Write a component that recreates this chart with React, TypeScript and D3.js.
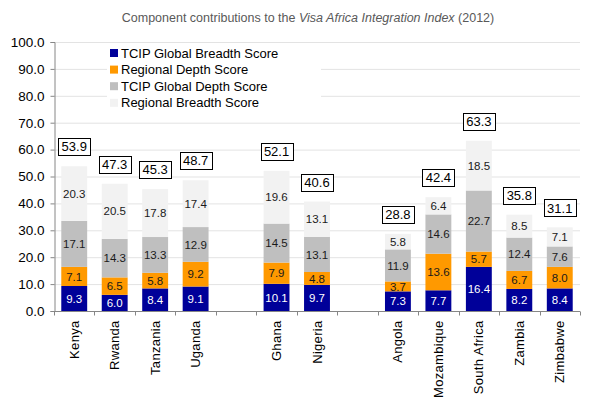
import React, { useEffect, useRef } from 'react';
import * as d3 from 'd3';

const slots = ['Kenya', 'Rwanda', 'Tanzania', 'Uganda', 'gap1', 'Ghana', 'Nigeria', 'gap2', 'Angola', 'Mozambique', 'South Africa', 'Zambia', 'Zimbabwe'];
const countries = ['Kenya', 'Rwanda', 'Tanzania', 'Uganda', 'Ghana', 'Nigeria', 'Angola', 'Mozambique', 'South Africa', 'Zambia', 'Zimbabwe'];

const seriesNames = ['TCIP Global Breadth Score', 'Regional Depth Score', 'TCIP Global Depth Score', 'Regional Breadth Score'];
const seriesColors = ['#000099', '#FF9900', '#BFBFBF', '#F2F2F2'];

const globalBreadth = [9.3, 6.0, 8.4, 9.1, 10.1, 9.7, 7.3, 7.7, 16.4, 8.2, 8.4];
const regionalDepth = [7.1, 6.5, 5.8, 9.2, 7.9, 4.8, 3.7, 13.6, 5.7, 6.7, 8.0];
const globalDepth = [17.1, 14.3, 13.3, 12.9, 14.5, 13.1, 11.9, 14.6, 22.7, 12.4, 7.6];
const regionalBreadth = [20.3, 20.5, 17.8, 17.4, 19.6, 13.1, 5.8, 6.4, 18.5, 8.5, 7.1];
const totals = [53.9, 47.3, 45.3, 48.7, 52.1, 40.6, 28.8, 42.4, 63.3, 35.8, 31.1];

const yTicks = [0, 10, 20, 30, 40, 50, 60, 70, 80, 90, 100];

const FONT = 'Liberation Sans, Arial, sans-serif';

const App = () => {
  const svgRef = useRef<SVGSVGElement>(null);

  useEffect(() => {
    const svg = d3.select(svgRef.current);
    svg.selectAll('*').remove();

    const width = 596;
    const height = 408;
    const left = 54;
    const right = 580;
    const top = 42;
    const bottom = 311;

    svg.attr('width', width).attr('height', height).style('font-family', FONT);

    const x = d3.scaleBand().domain(slots).range([left, right]).paddingInner(0.36).paddingOuter(0.18);
    const step = x.step();
    const y = d3.scaleLinear().domain([0, 100]).range([bottom, top]);

    // title
    const title = svg.append('text')
      .attr('x', 308)
      .attr('y', 22)
      .attr('text-anchor', 'middle')
      .attr('fill', '#595959')
      .style('font-size', '12.5px');
    title.append('tspan').text('Component contributions to the ');
    title.append('tspan').style('font-style', 'italic').text('Visa Africa Integration Index');
    title.append('tspan').text(' (2012)');

    // gridlines
    svg.append('g')
      .selectAll('line')
      .data(yTicks.slice(1))
      .enter()
      .append('line')
      .attr('x1', left)
      .attr('x2', right)
      .attr('y1', d => y(d) + 0.5)
      .attr('y2', d => y(d) + 0.5)
      .attr('stroke', '#E3E3E3');

    // legend (white background over gridlines)
    const legend = svg.append('g');
    legend.append('rect')
      .attr('x', 107).attr('y', 45).attr('width', 214).attr('height', 66)
      .attr('fill', 'white');
    seriesNames.forEach((name, i) => {
      const ly = 53 + i * 16.6;
      legend.append('rect')
        .attr('x', 110).attr('y', ly - 4).attr('width', 8).attr('height', 8)
        .attr('fill', seriesColors[i]);
      legend.append('text')
        .attr('x', 121).attr('y', ly).attr('dy', '0.35em')
        .style('font-size', '13px')
        .attr('fill', '#000')
        .text(name);
    });

    // stacked bars
    const stackData = countries.map((c, i) => ({
      country: c,
      s0: globalBreadth[i],
      s1: regionalDepth[i],
      s2: globalDepth[i],
      s3: regionalBreadth[i],
    }));
    const stack = d3.stack<any>().keys(['s0', 's1', 's2', 's3']);
    const layers = stack(stackData);

    layers.forEach((layer, li) => {
      const g = svg.append('g');
      g.selectAll('rect')
        .data(layer)
        .enter()
        .append('rect')
        .attr('x', d => x(d.data.country)!)
        .attr('width', x.bandwidth())
        .attr('y', d => y(d[1]))
        .attr('height', d => y(d[0]) - y(d[1]))
        .attr('fill', seriesColors[li]);

      g.selectAll('text')
        .data(layer)
        .enter()
        .append('text')
        .attr('x', d => x(d.data.country)! + x.bandwidth() / 2)
        .attr('y', d => (y(d[0]) + y(d[1])) / 2)
        .attr('dy', '0.36em')
        .attr('text-anchor', 'middle')
        .attr('fill', li === 0 ? '#fff' : '#1a1a1a')
        .style('font-size', '11.5px')
        .text(d => (d[1] - d[0]).toFixed(1));
    });

    // total boxes
    const tg = svg.append('g');
    countries.forEach((c, i) => {
      const cx = x(c)! + x.bandwidth() / 2;
      const barTop = y(d3.sum([globalBreadth[i], regionalDepth[i], globalDepth[i], regionalBreadth[i]]));
      const bw = 32;
      const bh = 17;
      tg.append('rect')
        .attr('x', Math.round(cx - bw / 2) + 0.5)
        .attr('y', Math.round(barTop - 11 - bh) + 0.5)
        .attr('width', bw)
        .attr('height', bh)
        .attr('fill', 'white')
        .attr('stroke', '#000');
      tg.append('text')
        .attr('x', cx)
        .attr('y', barTop - 11 - bh / 2)
        .attr('dy', '0.36em')
        .attr('text-anchor', 'middle')
        .style('font-size', '13px')
        .text(totals[i].toFixed(1));
    });

    // y axis
    const yAxis = svg.append('g')
      .attr('transform', `translate(${left + 0.5},0)`)
      .call(d3.axisLeft(y).tickValues(yTicks).tickFormat(d3.format('.1f')).tickSize(4).tickPadding(6));
    yAxis.select('.domain').attr('stroke', '#868686');
    yAxis.selectAll('.tick line').attr('stroke', '#868686');
    yAxis.selectAll('text').style('font-size', '13.5px').style('font-family', FONT).attr('fill', '#000');

    // x axis
    const xg = svg.append('g').attr('transform', `translate(0,${bottom + 0.5})`);
    xg.append('line')
      .attr('x1', left).attr('x2', right)
      .attr('stroke', '#868686');
    const boundaries = d3.range(slots.length + 1).map(i => left + i * step);
    xg.selectAll('.tk')
      .data(boundaries)
      .enter()
      .append('line')
      .attr('x1', d => Math.round(d) + 0.5)
      .attr('x2', d => Math.round(d) + 0.5)
      .attr('y1', 0)
      .attr('y2', 4)
      .attr('stroke', '#868686');
    xg.selectAll('.lbl')
      .data(countries)
      .enter()
      .append('text')
      .attr('transform', d => `translate(${x(d)! + x.bandwidth() / 2 + 4.5},9) rotate(-90)`)
      .attr('text-anchor', 'end')
      .style('font-size', '13px')
      .style('letter-spacing', '0.3px')
      .text(d => d);
  }, []);

  return (
    <div style={{ position: 'absolute', left: 0, top: 0 }}>
      <svg ref={svgRef}></svg>
    </div>
  );
};

export default App;
